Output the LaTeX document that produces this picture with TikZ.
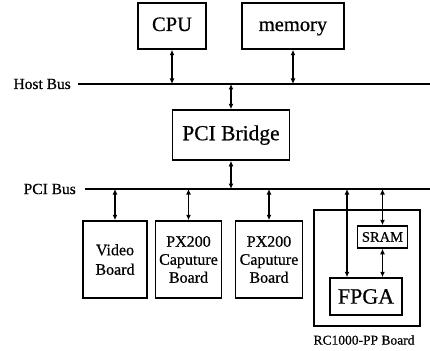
\documentclass[tikz,border=0pt]{standalone}
\usepackage{fontspec}
\setmainfont{Liberation Serif}[FakeBold=0.6]
\usetikzlibrary{arrows.meta}
\begin{document}
\begin{tikzpicture}[x=1pt,y=-1pt,
  box/.style={draw,line width=1.5pt,rectangle,inner sep=0pt,align=center},
  bus/.style={line width=1.7pt},
  link/.style={line width=1.6pt,{Latex[length=5.5pt,width=5pt]}-{Latex[length=5.5pt,width=5pt]}},
  lbl/.style={inner sep=0pt}]
\useasboundingbox (0,0) rectangle (430,350);

% host side
\node[box,minimum width=68pt,minimum height=46pt,text height=14pt,text depth=4pt,font=\fontsize{20.5}{22}\selectfont] (cpu) at (172,26) {CPU};
\node[box,minimum width=102pt,minimum height=46pt,text height=14pt,text depth=4pt,font=\fontsize{20.5}{22}\selectfont] (mem) at (293,26) {memory};
\coordinate (hostL) at (78,84);
\coordinate (hostR) at (430,84);
\draw[bus] (hostL) -- (hostR);
\node[lbl,anchor=east,font=\fontsize{15.5}{17}\selectfont] (hostlbl) at (71,84) {Host Bus};

\node[box,minimum width=117pt,minimum height=50pt,text height=15pt,text depth=4.5pt,font=\fontsize{21.5}{23}\selectfont] (bridge) at (231,135) {PCI Bridge};

% PCI side
\coordinate (pciL) at (85,189);
\coordinate (pciR) at (430,189);
\draw[bus] (pciL) -- (pciR);
\node[lbl,anchor=east,font=\fontsize{15.5}{17}\selectfont] (pcilbl) at (76,189) {PCI Bus};

\node[box,minimum width=64pt,minimum height=77pt,font=\fontsize{16}{19.5}\selectfont] (video) at (115,259.5) {Video\\Board};
\node[box,minimum width=66pt,minimum height=77pt,font=\fontsize{16}{18}\selectfont] (px1) at (188.5,259.5) {PX200\\Caputure\\Board};
\node[box,minimum width=67pt,minimum height=77pt,font=\fontsize{16}{18}\selectfont] (px2) at (269,259.5) {PX200\\Caputure\\Board};

% RC1000-PP board
\node[box,minimum width=106pt,minimum height=116pt] (rc) at (367,268) {};
\node[box,minimum width=50pt,minimum height=22pt,font=\fontsize{14.5}{16}\selectfont] (sram) at (382.5,237) {SRAM};
\node[box,minimum width=72pt,minimum height=37pt,font=\fontsize{22}{24}\selectfont] (fpga) at (366,296.5) {FPGA};
\node[lbl,font=\fontsize{13.5}{15}\selectfont] (rclbl) at (364,340) {RC1000-PP Board};
\coordinate (fpgaTap) at (347,189);

% connections
\draw[link] (cpu.south) -- (cpu.south |- hostL);
\draw[link] (mem.south) -- (mem.south |- hostL);
\draw[link] (bridge.north |- hostL) -- (bridge.north);
\draw[link] (bridge.south) -- (bridge.south |- pciL);
\draw[link] (video.north |- pciL) -- (video.north);
\draw[link] (px1.north |- pciL) -- (px1.north);
\draw[link] (px2.north |- pciL) -- (px2.north);
\draw[link] (fpgaTap) -- (fpgaTap |- fpga.north);
\draw[link] (sram.north |- pciL) -- (sram.north);
\draw[link] (sram.south) -- (sram.south |- fpga.north);
\end{tikzpicture}
\end{document}
